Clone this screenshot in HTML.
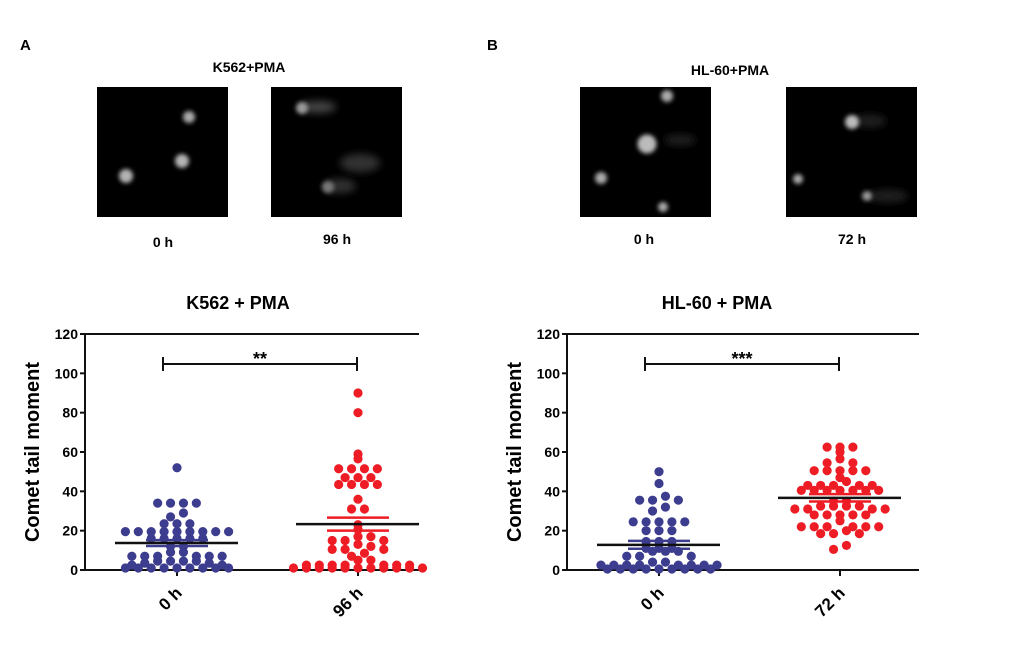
<!DOCTYPE html>
<html><head><meta charset="utf-8">
<style>
body{margin:0;background:#fff;}
svg{display:block;font-family:"Liberation Sans",Arial,sans-serif;font-weight:bold;}
</style></head>
<body>
<svg id="fig" width="1020" height="651" viewBox="0 0 1020 651">
<defs>
<filter id="bl" x="-1" y="-1" width="3" height="3"><feGaussianBlur stdDeviation="2.2"/></filter>
<filter id="bl2" x="-1" y="-1" width="3" height="3"><feGaussianBlur stdDeviation="4"/></filter>
</defs>
<text x="20" y="50" font-size="15">A</text>
<text x="487" y="50" font-size="15">B</text>
<text x="249" y="72" font-size="14" text-anchor="middle">K562+PMA</text>
<text x="730" y="75" font-size="14" text-anchor="middle">HL-60+PMA</text>

<g>
<rect x="97" y="87" width="131" height="130" fill="#000"/>
<circle cx="189" cy="117" r="6" fill="#aaa" filter="url(#bl)"/>
<circle cx="182" cy="161" r="7" fill="#b4b4b4" filter="url(#bl)"/>
<circle cx="126" cy="176" r="7" fill="#b4b4b4" filter="url(#bl)"/>
</g>
<g>
<rect x="271" y="87" width="131" height="130" fill="#000"/>
<ellipse cx="318" cy="107" rx="18" ry="6" fill="#444" filter="url(#bl2)"/>
<circle cx="302" cy="108" r="6" fill="#999" filter="url(#bl)"/>
<ellipse cx="360" cy="163" rx="20" ry="9" fill="#333" filter="url(#bl2)"/>
<ellipse cx="340" cy="186" rx="16" ry="7" fill="#333" filter="url(#bl2)"/>
<circle cx="328" cy="187" r="6" fill="#777" filter="url(#bl)"/>
</g>
<g>
<rect x="580" y="87" width="131" height="130" fill="#000"/>
<circle cx="667" cy="96" r="6" fill="#aaa" filter="url(#bl)"/>
<ellipse cx="680" cy="140" rx="16" ry="5" fill="#222" filter="url(#bl2)"/>
<circle cx="647" cy="144" r="9.5" fill="#bbb" filter="url(#bl)"/>
<circle cx="601" cy="178" r="6" fill="#aaa" filter="url(#bl)"/>
<circle cx="663" cy="207" r="5" fill="#aaa" filter="url(#bl)"/>
</g>
<g>
<rect x="786" y="87" width="131" height="130" fill="#000"/>
<ellipse cx="870" cy="121" rx="16" ry="6" fill="#222" filter="url(#bl2)"/>
<circle cx="852" cy="122" r="7" fill="#bbb" filter="url(#bl)"/>
<circle cx="798" cy="179" r="5" fill="#aaa" filter="url(#bl)"/>
<ellipse cx="888" cy="196" rx="20" ry="6" fill="#222" filter="url(#bl2)"/>
<circle cx="867" cy="196" r="5" fill="#999" filter="url(#bl)"/>
</g>
<text x="163" y="247" font-size="14" text-anchor="middle">0 h</text>
<text x="337" y="244" font-size="14" text-anchor="middle">96 h</text>
<text x="644" y="244" font-size="14" text-anchor="middle">0 h</text>
<text x="852" y="244" font-size="14" text-anchor="middle">72 h</text>
</svg>
<script>
const yTicks=[0,20,40,60,80,100,120];
const k562Categories=["0 h","96 h"];
const k562Control=[52,34,34,34,34,29,27,23.5,23.5,23.5,19.5,19.5,19.5,19.5,19.5,19.5,19.5,19.5,19.5,16,16,16,16,16,12,12,9,9,7,7,7,7,7,7,4.5,4.5,4.5,4.5,3.5,3.5,2.5,2.5,1,1,1,1,1,1,1,1,1];
const k562Treated=[90,80,59,56.5,51.5,51.5,51.5,51.5,47,47,47,43.5,43.5,43.5,43.5,36,31,31,23,20.5,17,17,15,15,15,13,12,10.5,10.5,10.5,8.5,7,5,5,2.5,2.5,2.5,2.5,2.5,2.5,2.5,1,1,1,1,1,1,1,1,1,1,1];
const k562Means=[13.7,23.3];
const k562Sem=[1.5,3.3];
const k562Sig="**";
const hlCategories=["0 h","72 h"];
const hlControl=[50,44,37.5,35.5,35.5,35.5,32,30,24.5,24.5,24.5,24.5,24.5,20,20,20,14.5,14.5,14.5,11,11,11,9.5,9.5,9.5,7,7,7,4,4,2.5,2.5,2.5,2.5,2.5,2.5,2.5,2.5,0.5,0.5,0.5,0.5,0.5,0.5,0.5,0.5,0.5];
const hlTreated=[62.5,62.5,62.5,60,56.5,54.5,54.5,50.5,50.5,50.5,50.5,50.5,47,45,43,43,43,43,43,40.5,40.5,40.5,40.5,40.5,40.5,40.5,35,35,32.5,32.5,32.5,32.5,31,31,31,31,28,28,28,28,28,25,22,22,22,22,22,22,20,18.5,18.5,18.5,12.5,10.5];
const hlMeans=[12.8,36.7];
const hlSem=[2.0,1.9];
const hlSig="***";

const NS="http://www.w3.org/2000/svg";
const svg=document.getElementById('fig');
function mk(tag,attrs,parent,text){const e=document.createElementNS(NS,tag);for(const k in attrs)e.setAttribute(k,attrs[k]);if(text!==undefined)e.textContent=text;(parent||svg).appendChild(e);return e;}

function chart(cfg){
  const x0=cfg.x0,x1=cfg.x1,yb=570,yt=334,ymax=120;
  const y=v=>yb-(v/ymax)*(yb-yt);
  const g=mk('g',{});
  
  
  const t=mk('text',{x:cfg.titleX,y:309,'font-size':18,'text-anchor':'middle'},g,cfg.title);
  
  
  const fr=mk('path',{d:`M${x0} ${yt} H${x1} M${x0} ${yt} V${yb} H${x1}`,stroke:'#111','stroke-width':2,fill:'none'},g);
  
  
  yTicks.forEach(v=>{
    const tk=mk('line',{x1:x0-5,x2:x0,y1:y(v),y2:y(v),stroke:'#111','stroke-width':2},g);
    
    
    const tl=mk('text',{x:x0-7,y:y(v)+5,'font-size':14,'text-anchor':'end'},g,v);
    
    
  });
  const yt2=mk('text',{transform:`translate(${cfg.x0-46},452) rotate(-90)`,'font-size':20,'text-anchor':'middle'},g,'Comet tail moment');
  
  
  const series=[cfg.a,cfg.b],colors=['#3d3d8f','#ee1c24'];
  const step=12.9;
  cfg.cats.forEach((c,i)=>{
    const cx=cfg.cx[i];
    const tk=mk('line',{x1:cx,x2:cx,y1:yb,y2:yb+6,stroke:'#111','stroke-width':2},g);
    
    
    const xl=mk('text',{transform:`translate(${cx+6},${yb+24}) rotate(-45)`,'font-size':17,'text-anchor':'end'},g,c);
    
    
    const bins={};
    series[i].slice().sort((p,q)=>p-q).forEach(v=>{const k=Math.round(v/4);(bins[k]=bins[k]||[]).push(v);});
    Object.keys(bins).forEach(k=>{
      const row=bins[k],n=row.length;
      const order=[];row.forEach((v,j)=>{order[j%2?n-1-(j>>1):(j>>1)]=v;});
      order.forEach((v,j)=>{
        const off=(j-(n-1)/2)*step;
        const dot=mk('circle',{cx:cx+off,cy:y(v),r:4.6,fill:colors[i]},g);
        
        
      });
    });
    const m=cfg.means[i],s=cfg.sem[i];
    [m+s,m-s].forEach(v=>{
      const sl=mk('line',{x1:cx-31,x2:cx+31,y1:y(v),y2:y(v),stroke:colors[i],'stroke-width':2.5},g);
      
      
    });
    const ml=mk('line',{x1:cx-62,x2:cx+61,y1:y(m),y2:y(m),stroke:'#111','stroke-width':2.5},g);
    
    
  });
  const bx0=cfg.cx[0]-14,bx1=cfg.cx[1]-1,by=364;
  const br=mk('path',{d:`M${bx0} ${by-7} V${by+7} M${bx0} ${by} H${bx1} M${bx1} ${by-7} V${by+7}`,stroke:'#111','stroke-width':2,fill:'none'},g);
  
  
  const st=mk('text',{x:(bx0+bx1)/2,y:by+1,'font-size':18,'text-anchor':'middle'},g,cfg.sig);
  
  
}
chart({name:'k562-chart',title:'K562 + PMA',titleX:238,x0:85,x1:419,cx:[177,358],cats:k562Categories,a:k562Control,b:k562Treated,means:k562Means,sem:k562Sem,sig:k562Sig});
chart({name:'hl60-chart',title:'HL-60 + PMA',titleX:717,x0:567,x1:919,cx:[659,840],cats:hlCategories,a:hlControl,b:hlTreated,means:hlMeans,sem:hlSem,sig:hlSig});
</script>
</body></html>
